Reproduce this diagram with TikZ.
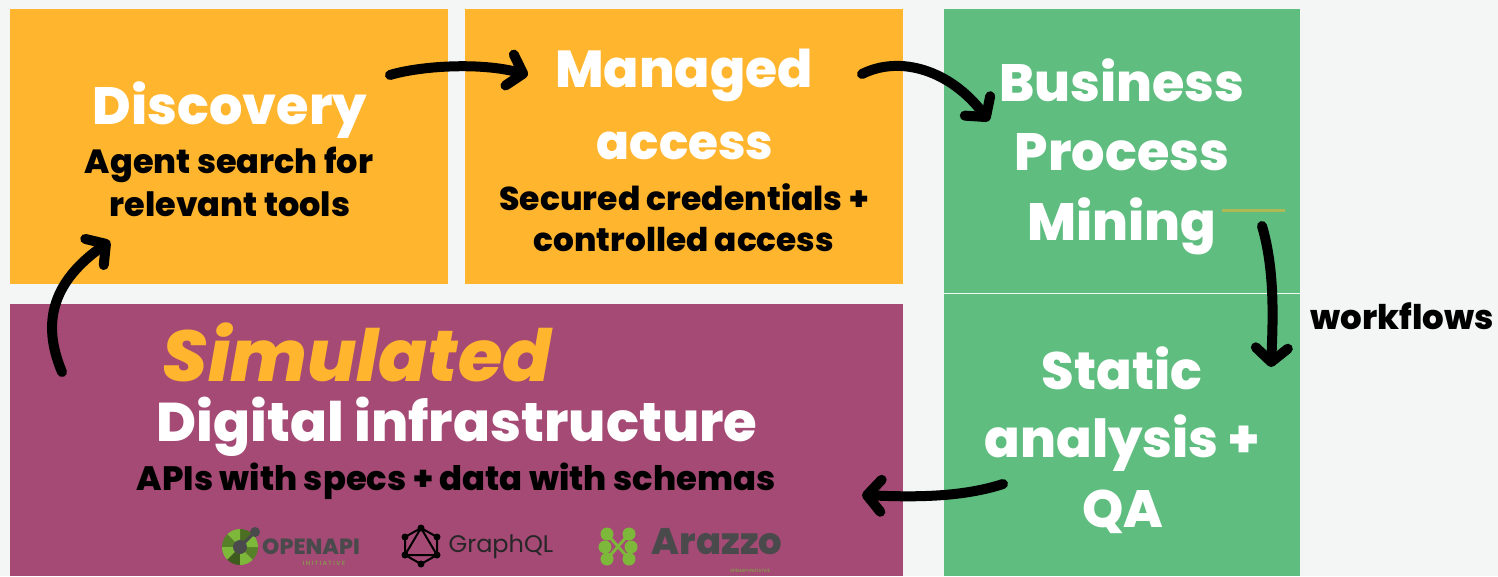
\documentclass[tikz,border=0pt]{standalone}
\usepackage{fontspec}
\setmainfont{Poppins}[BoldFont=Poppins ExtraBold,BoldItalicFont=Poppins ExtraBold Italic]
\usetikzlibrary{arrows.meta}
\definecolor{bggrey}{HTML}{F4F6F6}
\definecolor{boxorange}{HTML}{FFB52E}
\definecolor{boxgreen}{HTML}{5EBD7F}
\definecolor{boxpurple}{HTML}{A44A75}
\definecolor{logogrey}{HTML}{4A4A4C}
\definecolor{logogreen}{HTML}{7DB83A}
\tikzset{
  box/.style={anchor=north west,inner sep=0pt,outer sep=0pt},
  title/.style={text=white,font=\bfseries\fontsize{52.5}{56}\selectfont},
  sub/.style={text=black,font=\bfseries\fontsize{33.5}{36}\selectfont},
  logotext/.style={inner sep=0pt,text=logogreen},
  sketch/.style={line width=10pt,line cap=round,-{Straight Barb[round,length=14pt,width=32pt]}},
}
\begin{document}
\begin{tikzpicture}[x=1pt,y=-1pt]
\useasboundingbox[fill=bggrey] (0,0) rectangle (1498,576);
\node[box,fill=boxorange,minimum width=438pt,minimum height=275pt] (discovery) at (10,9) {};
\node[box,fill=boxorange,minimum width=438pt,minimum height=275pt] (managed) at (465,9) {};
\node[box,fill=boxgreen,minimum width=356pt,minimum height=284pt] (mining) at (944,9) {};
\node[box,fill=boxgreen,minimum width=356pt,minimum height=282pt] (static) at (944,294) {};
\node[box,fill=boxpurple,minimum width=893pt,minimum height=272pt] (infra) at (10,304) {};
\draw[boxorange!50!boxgreen,line width=3pt] (1222,210) -- (1285,210);
% box texts
\node[title] (t1) at (230,110) {Discovery};
\node[sub] (t2) at (229,165) {Agent search for};
\node[sub] (t3) at (230,204) {relevant tools};
\node[title,font=\bfseries\fontsize{52}{56}\selectfont] (t4) at (684,75) {Managed};
\node[title,font=\bfseries\fontsize{48.5}{52}\selectfont] (t5) at (685,146) {access};
\node[sub,font=\bfseries\fontsize{33}{36}\selectfont] (t6) at (684,197) {Secured credentials +};
\node[sub,font=\bfseries\fontsize{32.7}{36}\selectfont] (t7) at (684,240) {controlled access};
\node[title] (t8) at (1122,80) {Business};
\node[title] (t9) at (1122,152) {Process};
\node[title] (t10) at (1122,226) {Mining};
\node[title] (t11) at (1122,368) {Static};
\node[title] (t12) at (1122,443) {analysis +};
\node[title] (t13) at (1123,512) {QA};
\node[title,text=boxorange,font=\bfseries\itshape\fontsize{72}{76}\selectfont] (t14) at (357,352) {Simulated};
\node[title,font=\bfseries\fontsize{54.5}{58}\selectfont] (t15) at (457,427) {Digital infrastructure};
\node[sub,font=\bfseries\fontsize{33.8}{36}\selectfont] (t16) at (456,481) {APIs with specs + data with schemas};
\node[sub,font=\bfseries\fontsize{34}{36}\selectfont] (flows) at (1402,316) {workflows};
% logos
\node[logotext,text=logogrey,font=\bfseries\fontsize{22}{24}\selectfont] (oa) at (311,547) {OPENAPI};
\node[logotext,font=\fontsize{6}{7}\selectfont] (oa2) at (324,563) {I N I T I A T I V E};
\node[logotext,text=black!85,font=\fontsize{24}{26}\selectfont] (gq) at (501,547) {GraphQL};
\node[logotext,text=logogrey,font=\bfseries\fontsize{37}{40}\selectfont] (az) at (717,542) {Arazzo};
\node[logotext,font=\fontsize{4.5}{5}\selectfont] (az2) at (750,571) {OPENAPI INITIATIVE};
\foreach \ang/\shade in {0/70,45/100,90/60,135/100,180/70,225/100,270/50,315/100}
  \fill[logogreen!\shade!black] (240,547) -- ++(\ang:18pt) arc[start angle=\ang,delta angle=-45,radius=18pt] -- cycle;
\fill[logogrey] (240,547) circle (7pt) (255,532) circle (5pt);
\draw[logogrey,line width=3pt] (240,547) -- (255,532);
\draw[black,line width=2pt] (421,528) -- (437,537) -- (437,555) -- (421,564) -- (405,555) -- (405,537) -- cycle (421,528) -- (437,555) -- (405,555) -- cycle;
\foreach \px/\py in {421/528,437/537,437/555,421/564,405/555,405/537}
  \fill[black] (\px,\py) circle (3.5pt);
\foreach \px/\py in {607/534,629/534,605/547,631/547,607/559,629/559}
  \fill[logogreen] (\px,\py) circle (6.5pt);
\draw[logogreen,line width=3pt] (607,534) -- (629,559) (629,534) -- (607,559);
% arrows
\coordinate (a1) at (390,75);
\coordinate (a2) at (528,75);
\coordinate (b1) at (862,74);
\coordinate (b2) at (989,121);
\coordinate (c1) at (1262,226);
\coordinate (c2) at (1271,367);
\coordinate (d1) at (1003,484);
\coordinate (d2) at (862,495);
\coordinate (e1) at (62,372);
\coordinate (e2) at (110,241);
\draw[sketch] (a1) .. controls (420,66) and (480,62) .. (a2);
\draw[sketch] (b1) .. controls (900,55) and (950,70) .. (b2);
\draw[sketch] (c1) .. controls (1275,270) and (1273,320) .. (c2);
\draw[sketch] (d1) .. controls (960,498) and (910,497) .. (d2);
\draw[sketch] (e1) .. controls (40,320) and (55,280) .. (e2);
\end{tikzpicture}
\end{document}
